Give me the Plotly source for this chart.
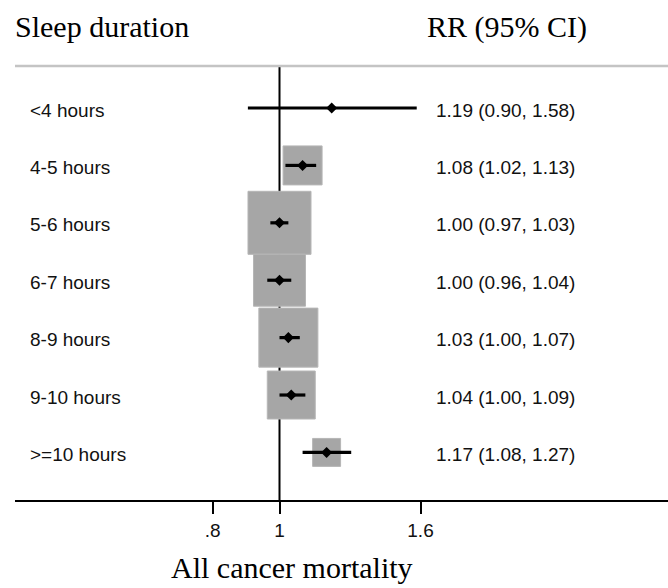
import plotly.graph_objects as go
import math

# ---- data ----
labels = ["<4 hours", "4-5 hours", "5-6 hours", "6-7 hours", "8-9 hours", "9-10 hours", ">=10 hours"]
rr = [1.19, 1.08, 1.00, 1.00, 1.03, 1.04, 1.17]
ci_low = [0.90, 1.02, 0.97, 0.96, 1.00, 1.00, 1.08]
ci_high = [1.58, 1.13, 1.03, 1.04, 1.07, 1.09, 1.27]
weights = [0.1, 10.3, 26.9, 18.3, 23.6, 15.6, 5.3]   # relative study weight (%)
tick_vals = [0.8, 1, 1.6]
tick_text = [".8", "1", "1.6"]

# ---- layout constants ----
W, H = 668, 588
ML, MR, MT, MB = 15, 0, 66, 88
PW, PH = W - ML - MR, H - MT - MB
BOX_K = 12.15
rows = list(range(len(labels)))
y_top, y_bot = -0.732, 6.829
x_range = [-0.3829, 0.5624]

def px_x(px):
    return (px - ML) / PW

def px_y(py):
    return (H - MB - py) / PH

serif = "Liberation Serif, Times New Roman, serif"
sans = "Liberation Sans, Arial, sans-serif"

fig = go.Figure()

# weight boxes
fig.add_trace(go.Scatter(
    x=rr, y=rows, mode="markers", opacity=1,
    marker=dict(symbol="square", size=[BOX_K * math.sqrt(w) for w in weights],
                color="#a6a6a6", opacity=1, line=dict(color="#b6b6b6", width=1)),
    hoverinfo="skip", showlegend=False,
))

# point estimates with CIs
fig.add_trace(go.Scatter(
    x=rr, y=rows, mode="markers", opacity=1,
    marker=dict(symbol="diamond", size=8.5, color="black", opacity=1, line=dict(width=0)),
    error_x=dict(type="data", symmetric=False,
                 array=[h - r for h, r in zip(ci_high, rr)],
                 arrayminus=[r - l for r, l in zip(rr, ci_low)],
                 color="black", thickness=3.2, width=0),
    hoverinfo="skip", showlegend=False,
))

# reference line at 1 and top rule
fig.add_shape(type="line", xref="x", yref="paper", x0=1, x1=1, y0=0, y1=1,
              line=dict(color="black", width=2), layer="below")
fig.add_shape(type="line", xref="paper", yref="paper", x0=0, x1=1, y0=1, y1=1,
              line=dict(color="#c4c4c4", width=2.5), layer="below")

annotations = []
for i, lab in enumerate(labels):
    annotations.append(dict(x=px_x(28), y=i, xref="paper", yref="y", text=lab,
                            showarrow=False, xanchor="left", yanchor="middle", yshift=-2,
                            font=dict(family=sans, size=19, color="#111")))
    annotations.append(dict(x=px_x(434), y=i, xref="paper", yref="y",
                            text=f"{rr[i]:.2f} ({ci_low[i]:.2f}, {ci_high[i]:.2f})",
                            showarrow=False, xanchor="left", yanchor="middle", yshift=-2,
                            font=dict(family=sans, size=19, color="#111")))

annotations.append(dict(x=px_x(13), y=px_y(27), xref="paper", yref="paper",
                        text="Sleep duration", showarrow=False, xanchor="left",
                        yanchor="middle", font=dict(family=serif, size=30, color="black")))
annotations.append(dict(x=px_x(425), y=px_y(27), xref="paper", yref="paper",
                        text="RR (95% CI)", showarrow=False, xanchor="left",
                        yanchor="middle", font=dict(family=serif, size=30, color="black")))
annotations.append(dict(x=px_x(292), y=px_y(567), xref="paper", yref="paper",
                        text="All cancer mortality", showarrow=False, xanchor="center",
                        yanchor="middle", font=dict(family=serif, size=30, color="black")))

fig.update_layout(
    width=W, height=H,
    margin=dict(l=ML, r=MR, t=MT, b=MB, pad=0),
    paper_bgcolor="white", plot_bgcolor="white",
    annotations=annotations,
    xaxis=dict(type="log", range=x_range, showgrid=False, zeroline=False,
               showline=True, linecolor="black", linewidth=2,
               ticks="outside", ticklen=12, tickwidth=2, tickcolor="black",
               tickvals=tick_vals, ticktext=tick_text, ticklabelstandoff=0,
               tickfont=dict(family=sans, size=19, color="#111")),
    yaxis=dict(range=[y_bot, y_top], showgrid=False, zeroline=False,
               showline=False, showticklabels=False, ticks=""),
)

fig.write_html("out.html")
